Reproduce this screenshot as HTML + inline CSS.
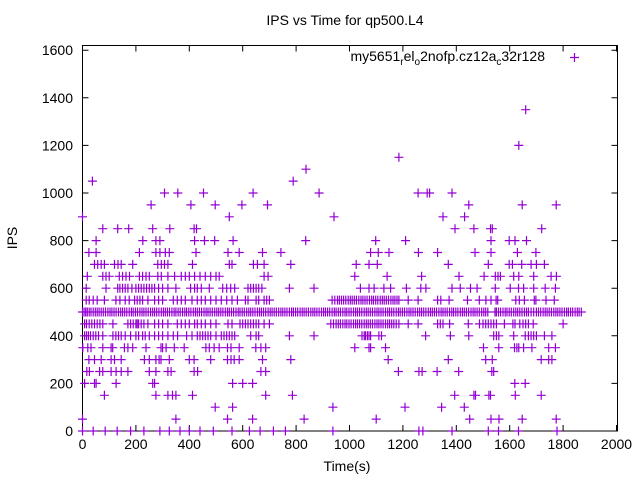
<!DOCTYPE html>
<html><head><meta charset="utf-8"><style>
html,body{margin:0;padding:0;background:#fff}
svg{display:block;font-family:"Liberation Sans",sans-serif}
</style></head><body>
<svg id="chart" width="640" height="480" viewBox="0 0 640 480" xmlns="http://www.w3.org/2000/svg">
<text x="345" y="25" font-size="14" text-anchor="middle">IPS vs Time for qp500.L4</text>
<text x="347" y="471" font-size="14" text-anchor="middle">Time(s)</text>
<text x="17" y="238" font-size="14" text-anchor="middle" transform="rotate(-90 17 238)">IPS</text>
<g id="axes"></g>
<g id="points"></g>
<g>
<text x="545" y="61" font-size="14" text-anchor="end">my5651<tspan font-size="10" dy="4">r</tspan><tspan dy="-4">el</tspan><tspan font-size="10" dy="4">o</tspan><tspan dy="-4">2nofp.cz12a</tspan><tspan font-size="10" dy="4">c</tspan><tspan dy="-4">32r128</tspan></text>
<path d="M570 57.5h9M574.5 53v9" stroke="#9400d3" stroke-width="1.2"/>
</g>
</svg>
<script>
const xTicks=[0,200,400,600,800,1000,1200,1400,1600,1800,2000];
const yTicks=[0,200,400,600,800,1000,1200,1400,1600];
const rowValues=[0,50,100,150,200,250,300,350,400,450,500,550,600,650,700,750,800,850,900,950,1000,1050,1100,1150,1200,1350];
const rowTimes=[
[0,40,85,130,180,230,290,325,365,400,440,490,560,625,665,715,760,938,1260,1275,1384,1520,1558,1633,1777],
[0,350,543,637,830,1100,1450,1530,1560,1647,1774],
[497,562,938,1208,1345,1430],
[82,275,320,337,350,412,686,786,1394,1466,1472,1522,1528,1621,1718],
[8,45,51,126,263,270,562,600,637,1619,1658],
[16,26,64,76,107,126,145,170,250,275,320,332,418,431,668,686,1183,1260,1272,1328,1409,1533,1540],
[24,45,70,107,120,145,232,250,275,287,294,325,400,418,480,543,556,568,587,674,780,1145,1370,1510,1535,1718,1746,1758],
[1,20,32,76,107,113,157,170,188,238,294,300,313,344,381,462,475,493,512,543,556,587,649,668,686,1020,1073,1079,1135,1502,1559,1618,1627,1634,1652,1683,1746,1771],
[8,15,22,30,40,50,60,76,114,125,135,145,160,180,200,210,225,235,250,270,285,300,320,340,356,390,410,430,440,450,460,470,480,500,520,530,540,550,560,570,630,650,660,775,867,1047,1055,1060,1067,1073,1079,1110,1120,1285,1378,1447,1540,1550,1559,1615,1658,1670,1680,1690,1700,1730,1758],
[8,15,25,35,45,55,65,76,114,170,180,190,200,205,210,220,230,245,270,285,300,320,355,370,385,400,420,430,445,460,480,500,545,560,590,600,610,620,630,640,650,660,680,700,930,940,950,958,966,975,983,990,998,1006,1015,1023,1030,1038,1046,1055,1063,1070,1078,1086,1095,1103,1110,1118,1126,1135,1143,1150,1158,1166,1175,1185,1220,1257,1330,1340,1350,1375,1445,1487,1500,1510,1520,1530,1540,1550,1580,1612,1620,1638,1650,1660,1670,1688,1800],
[0,6,12,18,25,32,40,48,55,62,70,78,86,95,103,110,118,126,135,143,150,158,166,175,183,190,198,206,215,223,230,238,246,255,263,270,278,286,295,303,310,318,326,335,343,350,358,366,375,383,390,398,406,415,423,430,438,446,455,463,470,478,486,495,503,510,518,526,535,543,550,558,566,575,583,590,598,606,615,623,630,638,646,655,663,670,678,686,695,703,710,718,726,735,743,750,758,766,775,783,790,798,806,815,823,830,838,846,855,863,870,878,886,895,903,910,918,926,935,943,950,958,966,975,983,990,998,1006,1015,1023,1030,1038,1046,1055,1063,1070,1078,1086,1095,1103,1110,1118,1126,1135,1143,1150,1158,1166,1175,1183,1190,1198,1206,1215,1223,1230,1238,1246,1255,1263,1270,1278,1286,1295,1303,1310,1318,1326,1335,1343,1350,1358,1366,1375,1383,1390,1398,1406,1415,1423,1430,1438,1446,1455,1463,1470,1478,1486,1495,1503,1510,1518,1545,1550,1558,1566,1575,1583,1590,1598,1606,1615,1623,1630,1638,1646,1655,1663,1670,1680,1690,1700,1708,1716,1725,1733,1740,1748,1756,1765,1773,1780,1788,1796,1805,1813,1820,1828,1836,1845,1853,1860,1868],
[14,25,40,55,82,125,140,160,175,195,205,215,225,245,270,285,300,340,355,370,385,410,430,445,460,480,500,520,540,560,580,610,620,650,660,680,690,700,935,945,955,962,970,978,986,995,1003,1010,1018,1026,1035,1043,1050,1058,1066,1075,1083,1090,1098,1106,1115,1123,1130,1138,1146,1155,1163,1170,1178,1185,1220,1257,1330,1342,1373,1442,1486,1511,1530,1549,1555,1623,1636,1655,1692,1698,1736,1767],
[14,88,132,140,150,160,170,185,200,210,220,230,240,250,260,270,285,300,320,350,405,420,430,445,475,525,540,555,570,620,630,640,650,660,672,775,867,1041,1073,1092,1129,1154,1213,1267,1286,1384,1415,1453,1478,1546,1602,1633,1652,1690,1733,1771],
[18,76,88,100,138,150,163,176,213,225,238,250,282,295,320,345,370,385,400,420,440,460,480,500,512,680,695,1020,1141,1270,1410,1504,1546,1556,1565,1615,1634,1690,1755,1775],
[45,57,70,82,120,133,145,188,282,295,307,320,412,550,560,640,655,680,780,1025,1073,1104,1370,1520,1598,1610,1645,1680,1700,1730],
[24,51,213,275,290,310,325,425,545,587,674,743,1079,1108,1148,1258,1330,1470,1530,1629,1698],
[51,226,275,290,420,457,495,564,836,1098,1210,1530,1598,1620,1663],
[76,132,173,263,327,418,427,1395,1466,1528,1535,1720],
[0,550,942,1431,1350],
[257,406,497,597,693,1447,1647,1774],
[307,357,453,639,886,1257,1291,1300,1384],
[37,789],
[837],
[1185],
[1634],
[1660]
];
const X0=82.5,XS=0.267,Y0=431,YS=0.238;
const xPos=t=>X0+t*XS, yPos=v=>Y0-v*YS;
const NS='http://www.w3.org/2000/svg';
const axes=document.getElementById('axes');
function mk(tag,attrs,parent){const e=document.createElementNS(NS,tag);for(const k in attrs)e.setAttribute(k,attrs[k]);parent.appendChild(e);return e;}
const frame=mk('rect',{x:82.5,y:45.5,width:535,height:385.5,fill:'none',stroke:'#000','stroke-width':1},axes);


xTicks.forEach(t=>{const x=xPos(t);
 const l=mk('path',{d:`M${x} 431v-6M${x} 45.5v6`,stroke:'#000','stroke-width':1},axes);
 
 
 const tx=mk('text',{x:x,y:449,'font-size':14,'text-anchor':'middle'},axes);tx.textContent=t;
 
 });
yTicks.forEach(v=>{const y=yPos(v);
 const l=mk('path',{d:`M82.5 ${y}h6M617.5 ${y}h-6`,stroke:'#000','stroke-width':1},axes);
 
 
 const tx=mk('text',{x:73,y:y+5,'font-size':14,'text-anchor':'end'},axes);tx.textContent=v;
 
 });
const pts=document.getElementById('points');
let d='';
rowValues.forEach((v,i)=>{rowTimes[i].forEach(t=>{const x=xPos(t),y=yPos(v);d+=`M${(x-4.5).toFixed(1)} ${y.toFixed(1)}h9M${x.toFixed(1)} ${(y-4.5).toFixed(1)}v9`;});});
const p=mk('path',{d:d,stroke:'#9400d3','stroke-width':1.2,fill:'none'},pts);


</script>
</body></html>
